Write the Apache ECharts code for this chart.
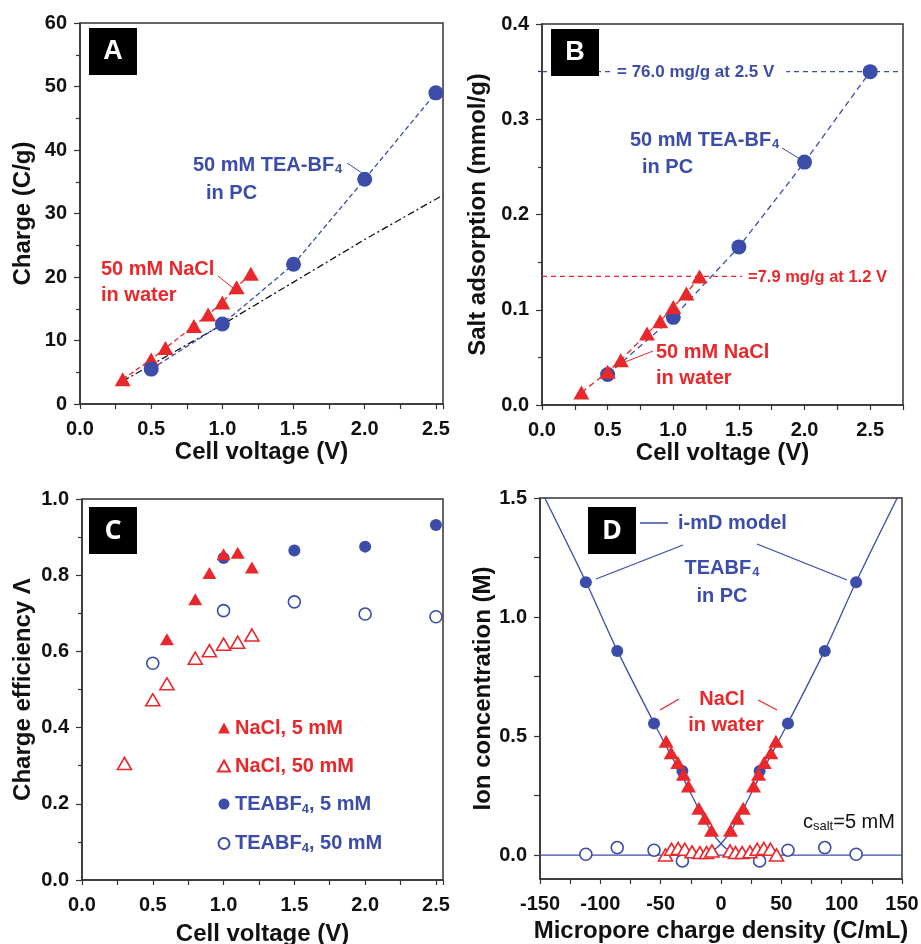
<!DOCTYPE html>
<html lang="en">
<head>
<meta charset="UTF-8">
<title>CDI charge and salt adsorption</title>
<script src="https://cdn.jsdelivr.net/npm/echarts@6/dist/echarts.min.js"></script>
<style>
  html, body { margin: 0; padding: 0; background: #fff; }
  #main { width: 921px; height: 944px; }
</style>
</head>
<body>
<div id="main"></div>
<script>
// ---- data ----
// A: charge vs cell voltage
var voltsNaCl = [0.3, 0.5, 0.6, 0.8, 0.9, 1.0, 1.1, 1.2];
var voltsTEA = [0.5, 1.0, 1.5, 2.0, 2.5];
var chargeNaCl = [3.9, 7.0, 8.8, 12.3, 14.1, 16.0, 18.4, 20.5];
var chargeTEA = [5.5, 12.6, 22.0, 35.4, 49.0];
var refVolts = [0.3, 1.0, 1.5, 2.0, 2.55];
var refCharge = [3.6, 12.5, 19.2, 25.9, 32.9];
// B: salt adsorption
var adsNaCl = [0.013, 0.035, 0.047, 0.075, 0.088, 0.103, 0.117, 0.135];
var adsTEA = [0.032, 0.092, 0.166, 0.255, 0.350];
var levelX = [0, 2.75];
var levelTEA = [0.35, 0.35];
var levelNaCl = [0.135, 0.135];
// C: charge efficiency
var voltsNaCl5 = [0.6, 0.8, 0.9, 1.0, 1.1, 1.2];
var effNaCl5 = [0.632, 0.737, 0.806, 0.855, 0.859, 0.820];
var effNaCl50 = [0.306, 0.473, 0.515, 0.582, 0.602, 0.619, 0.624, 0.643];
var voltsTEA5 = [1.0, 1.5, 2.0, 2.5];
var effTEA5 = [0.845, 0.865, 0.875, 0.932];
var effTEA50 = [0.569, 0.707, 0.730, 0.698, 0.691];
// D: ion concentration vs micropore charge
var sigmaTEA = [-112, -86, -55.5, -32, 32, 55.5, 86, 112];
var concTEA5 = [1.146, 0.857, 0.553, 0.354, 0.354, 0.553, 0.857, 1.146];
var concTEA50 = [0.004, 0.032, 0.021, -0.024, -0.024, 0.021, 0.032, 0.004];
var sigmaNaCl5 = [-45.5, -41.3, -35.8, -31.1, -27, -18.4, -13.4, -7.9, 7.9, 13.4, 18.4, 27, 31.1, 35.8, 41.3, 45.5];
var concNaCl5 = [0.479, 0.430, 0.389, 0.340, 0.291, 0.197, 0.155, 0.105, 0.105, 0.155, 0.197, 0.291, 0.340, 0.389, 0.430, 0.479];
var sigmaNaCl50 = [-46, -41, -35.5, -30, -24, -17.5, -12, -7.5, 7.5, 12, 17.5, 24, 30, 35.5, 41, 46];
var concNaCl50 = [0.001, 0.025, 0.028, 0.025, 0.014, 0.011, 0.011, 0.018, 0.018, 0.011, 0.011, 0.014, 0.025, 0.028, 0.025, 0.001];
var modelLeftX = [-148, -112, -86, -55, -32, -18, -8, 0, 6, 12, 20, 35];
var modelLeftY = [1.52, 1.148, 0.86, 0.55, 0.33, 0.19, 0.1, 0.048, 0.022, 0.01, 0.003, 0];
var modelRightX = [148, 112, 86, 55, 32, 18, 8, 0, -6, -12, -20, -35];
var modelRightY = [1.52, 1.148, 0.86, 0.55, 0.33, 0.19, 0.1, 0.048, 0.022, 0.01, 0.003, 0];
var baseX = [-150, 150];
var baseY = [0, 0];

var RED = '#e8282b', BLUE = '#3b4ca9', AX = '#333';
var FONT = 'Liberation Sans';

function zip(xs, ys) { return xs.map(function (x, i) { return [x, ys[i]]; }); }
function halfLabel(v) { return Math.abs(v * 2 - Math.round(v * 2)) < 1e-6 ? v.toFixed(1) : ''; }

function xAxis(grid, min, max, interval, name, gap, fmt) {
  return {
    gridIndex: grid, type: 'value', min: min, max: max, interval: interval,
    name: name, nameLocation: 'middle', nameGap: gap,
    nameTextStyle: { fontFamily: FONT, fontSize: 24, fontWeight: 'bold', color: '#111' },
    axisLine: { show: true, onZero: false, lineStyle: { color: AX, width: 1.5 } },
    axisTick: { show: true, length: 5, lineStyle: { color: AX, width: 1.2 } },
    axisLabel: { margin: 15, fontFamily: FONT, fontSize: 20, fontWeight: 'bold', color: '#111', formatter: fmt },
    splitLine: { show: false }
  };
}
function yAxis(grid, min, max, interval, name, gap, fmt) {
  return {
    gridIndex: grid, type: 'value', min: min, max: max, interval: interval,
    name: name, nameLocation: 'middle', nameGap: gap,
    nameTextStyle: { fontFamily: FONT, fontSize: 24, fontWeight: 'bold', color: '#111' },
    axisLine: { show: true, onZero: false, lineStyle: { color: AX, width: 1.5 } },
    axisTick: { show: true, length: 6, lineStyle: { color: AX, width: 1.2 } },
    minorTick: { show: true, splitNumber: 2, length: 4, lineStyle: { color: AX, width: 1.2 } },
    axisLabel: { margin: 13, fontFamily: FONT, fontSize: 20, fontWeight: 'bold', color: '#111', formatter: fmt },
    splitLine: { show: false }
  };
}

var yD = yAxis(3, -0.1, 1.5, null, 'Ion concentration (M)', 45, function (v) { return v.toFixed(1); });
delete yD.interval;
yD.minorTick = { show: false };
yD.axisTick.customValues = [0, 0.25, 0.5, 0.75, 1.0, 1.25, 1.5];
yD.axisLabel.customValues = [0, 0.5, 1.0, 1.5];

var xA = xAxis(0, 0, 2.55, 0.25, 'Cell voltage (V)', 36, halfLabel);
var xB = xAxis(1, 0, 2.75, 0.25, 'Cell voltage (V)', 36, halfLabel);
var xC = xAxis(2, 0, 2.55, 0.25, 'Cell voltage (V)', 42, halfLabel);
var xD = xAxis(3, -150, 150, 25, 'Micropore charge density (C/mL)', 40, function (v) { return v % 50 === 0 ? String(v) : ''; });

function dashedLine(name, xi, data, color, dash) {
  return { name: name, type: 'line', xAxisIndex: xi, yAxisIndex: xi, data: data, symbol: 'none',
    lineStyle: { color: color, width: 1.3, type: dash }, z: 1, silent: true };
}
function marks(name, xi, data, symbol, size, color, hollow) {
  return { name: name, type: 'scatter', xAxisIndex: xi, yAxisIndex: xi, data: data, symbol: symbol, symbolSize: size,
    itemStyle: hollow ? { color: '#fff', borderColor: color, borderWidth: 1.6, opacity: 1 } : { color: color, opacity: 1 },
    z: 3 };
}

var tStyle = function (color, size, weight) {
  return { fill: color, fontFamily: FONT, fontSize: size || 20, fontWeight: weight || 'bold' };
};
function txt(x, y, text, color, align, extra) {
  var s = tStyle(color);
  s.text = text; s.textAlign = align || 'left'; s.textVerticalAlign = 'middle';
  if (extra) for (var k in extra) s[k] = extra[k];
  return { type: 'text', x: x, y: y, z: 100, style: s };
}
var subRich = {
  n: { fontFamily: FONT, fontSize: 20, fontWeight: 'bold', lineHeight: 20, verticalAlign: 'top' },
  s: { fontFamily: FONT, fontSize: 13, fontWeight: 'bold', lineHeight: 20, verticalAlign: 'top', padding: [8, 0, 0, 1] }
};
function subTxt(x, y, main, sub, color, align) {
  return { type: 'text', x: x, y: y, z: 100,
    style: { text: '{n|' + main + '}{s|' + sub + '}', rich: subRich, fill: color, textAlign: align || 'left', textVerticalAlign: 'middle' } };
}
function seg(x1, y1, x2, y2, color, w) {
  return { type: 'line', z: 100, shape: { x1: x1, y1: y1, x2: x2, y2: y2 }, style: { stroke: color, lineWidth: w || 1 } };
}
function box(x, y, letter, fam) {
  return [
    { type: 'rect', z: 100, shape: { x: x, y: y, width: 48, height: 47 }, style: { fill: '#000' } },
    { type: 'text', z: 101, x: x + 24, y: y + 24,
      style: { text: letter, fill: '#fff', fontFamily: fam || FONT, fontSize: 27, fontWeight: 'bold', textAlign: 'center', textVerticalAlign: 'middle' } }
  ];
}

var graphics = [].concat(
  box(89, 28, 'A'), box(551, 29, 'B'), box(89, 507, 'C', 'Open Sans'), box(588, 507, 'D', 'Open Sans'),
  [
    // A
    subTxt(193, 165, '50 mM TEA-BF', '4', BLUE),
    txt(206, 193, 'in PC', BLUE),
    seg(347, 163, 362, 173, BLUE),
    txt(101, 269, '50 mM NaCl', RED),
    txt(101, 295, 'in water', RED),
    seg(218, 276, 233, 288, RED),
    // B
    txt(614, 72, '= 76.0 mg/g at 2.5 V', BLUE, 'left', { fontSize: 17, backgroundColor: '#fff', padding: [3, 12, 3, 3] }),
    txt(742, 277, '=7.9 mg/g at 1.2 V', RED, 'left', { fontSize: 16.5, backgroundColor: '#fff', padding: [3, 12, 3, 6] }),
    subTxt(630, 140, '50 mM TEA-BF', '4', BLUE),
    txt(642, 167, 'in PC', BLUE),
    seg(782, 148, 800, 159, BLUE),
    txt(656, 352, '50 mM NaCl', RED),
    txt(656, 378, 'in water', RED),
    seg(653, 351, 625, 362, RED),
    // D
    seg(640, 523, 668, 523, BLUE, 1.5),
    txt(678, 523, 'i-mD model', BLUE),
    seg(683, 545, 596, 579, BLUE, 1.3),
    seg(757, 544, 847, 580, BLUE, 1.3),
    subTxt(722, 568, 'TEABF', '4', BLUE, 'center'),
    txt(722, 596, 'in PC', BLUE, 'center'),
    txt(722, 699, 'NaCl', RED, 'center'),
    txt(726, 725, 'in water', RED, 'center'),
    seg(679, 699, 660, 710, RED, 1.3),
    seg(758, 700, 777, 710, RED, 1.3),
    { type: 'text', x: 803, y: 822, z: 100,
      style: { text: '{c|c}{s|salt}{c|=5 mM}', fill: '#111', textAlign: 'left', textVerticalAlign: 'middle',
        rich: {
          c: { fontFamily: FONT, fontSize: 20, lineHeight: 20, verticalAlign: 'top' },
          s: { fontFamily: FONT, fontSize: 13, lineHeight: 20, verticalAlign: 'top', padding: [8, 0, 0, 0] }
        } } }
  ]
);

var legendRich = {
  s: { fontFamily: FONT, fontSize: 13, fontWeight: 'bold', padding: [10, 0, 0, 0] }
};

function gridAt(left, top, width, height) {
  return { left: left, top: top, width: width, height: height, show: true, borderColor: AX, borderWidth: 1.5,
    backgroundColor: 'transparent', containLabel: false, outerBoundsMode: 'none' };
}

var option = {
  animation: false,
  backgroundColor: '#fff',
  textStyle: { fontFamily: FONT },
  grid: [
    gridAt(80, 23, 363, 381),
    gridAt(542, 24, 361, 381),
    gridAt(82, 499, 361, 381),
    gridAt(540, 498, 362, 381)
  ],
  xAxis: [xA, xB, xC, xD],
  yAxis: [
    yAxis(0, 0, 60, 10, 'Charge (C/g)', 45, null),
    yAxis(1, 0, 0.4, 0.1, 'Salt adsorption (mmol/g)', 52, function (v) { return v.toFixed(1); }),
    yAxis(2, 0, 1.0, 0.2, 'Charge efficiency \u039b', 47, function (v) { return v.toFixed(1); }),
    yD
  ],
  legend: [{
    left: 212, top: 713, orient: 'vertical', itemGap: 18, itemWidth: 12, itemHeight: 11,
    selectedMode: false,
    textStyle: { fontFamily: FONT, fontSize: 20, fontWeight: 'bold', rich: legendRich },
    formatter: function (name) { return name.replace('TEABF4', 'TEABF{s|4}'); },
    data: [
      { name: 'NaCl, 5 mM', textStyle: { color: RED } },
      { name: 'NaCl, 50 mM', textStyle: { color: RED } },
      { name: 'TEABF4, 5 mM', textStyle: { color: BLUE } },
      { name: 'TEABF4, 50 mM', textStyle: { color: BLUE } }
    ]
  }],
  graphic: graphics,
  series: [
    // A
    dashedLine('refA', 0, zip(refVolts, refCharge), '#111', [7, 3, 2, 3]),
    dashedLine('nacl lineA', 0, zip(voltsNaCl, chargeNaCl), RED, [5, 3]),
    dashedLine('tea lineA', 0, zip(voltsTEA, chargeTEA), BLUE, [5, 3]),
    marks('naclA', 0, zip(voltsNaCl, chargeNaCl), 'triangle', [16, 14], RED, false),
    marks('teaA', 0, zip(voltsTEA, chargeTEA), 'circle', 15, BLUE, false),
    // B
    dashedLine('levelTEA', 1, zip(levelX, levelTEA), BLUE, [5, 4]),
    dashedLine('levelNaCl', 1, zip(levelX, levelNaCl), RED, [5, 4]),
    dashedLine('nacl lineB', 1, zip(voltsNaCl, adsNaCl), RED, [6, 4]),
    dashedLine('tea lineB', 1, zip(voltsTEA, adsTEA), BLUE, [6, 4]),
    marks('teaB', 1, zip(voltsTEA, adsTEA), 'circle', 15, BLUE, false),
    marks('naclB', 1, zip(voltsNaCl, adsNaCl), 'triangle', [16, 14], RED, false),
    // C
    marks('TEABF4, 5 mM', 2, zip(voltsTEA5, effTEA5), 'circle', 12, BLUE, false),
    marks('TEABF4, 50 mM', 2, zip(voltsTEA, effTEA50), 'circle', 12, BLUE, true),
    marks('NaCl, 5 mM', 2, zip(voltsNaCl5, effNaCl5), 'triangle', [14, 12], RED, false),
    marks('NaCl, 50 mM', 2, zip(voltsNaCl, effNaCl50), 'triangle', [14, 12], RED, true),
    // D
    { name: 'modelL', type: 'line', xAxisIndex: 3, yAxisIndex: 3, data: zip(modelLeftX, modelLeftY), symbol: 'none', smooth: 0.3,
      lineStyle: { color: BLUE, width: 1.3 }, z: 1, silent: true },
    { name: 'modelR', type: 'line', xAxisIndex: 3, yAxisIndex: 3, data: zip(modelRightX, modelRightY), symbol: 'none', smooth: 0.3,
      lineStyle: { color: BLUE, width: 1.3 }, z: 1, silent: true },
    { name: 'base', type: 'line', xAxisIndex: 3, yAxisIndex: 3, data: zip(baseX, baseY), symbol: 'none',
      lineStyle: { color: BLUE, width: 1.3 }, z: 1, silent: true },
    marks('teaD5', 3, zip(sigmaTEA, concTEA5), 'circle', 12, BLUE, false),
    marks('teaD50', 3, zip(sigmaTEA, concTEA50), 'circle', 12, BLUE, true),
    marks('naclD50', 3, zip(sigmaNaCl50, concNaCl50), 'triangle', [14, 12], RED, true),
    marks('naclD5', 3, zip(sigmaNaCl5, concNaCl5), 'triangle', [15, 13], RED, false)
  ]
};

var myChart = echarts.init(document.getElementById('main'), null, { renderer: 'canvas' });
myChart.setOption(option);
</script>
</body>
</html>
